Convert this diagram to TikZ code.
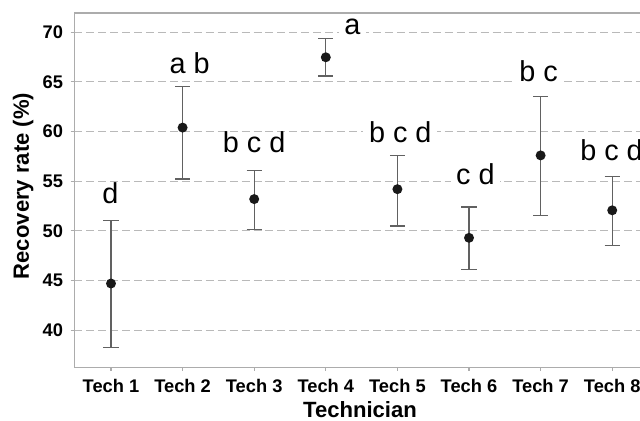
\documentclass[tikz,border=0pt]{standalone}
\usepackage{fontspec}
\setmainfont{Liberation Sans}

\begin{document}
\begin{tikzpicture}[x=1.79cm, y=0.24825cm,
	gridline/.style = {draw=gray!55, line width=0.6pt, dash pattern=on 5.7pt off 2.8pt},
	axisline/.style = {draw=gray!65, line width=0.8pt},
	errbar/.style = {draw=black!62, line width=0.85pt},
	meandot/.style = {circle, fill=black!90, inner sep=0pt, minimum size=7.1pt},
	grouplabel/.style = {fill=white, anchor=base, font=\fontsize{20.5}{24}\selectfont, text height=1em, text depth=0.22em, inner xsep=4pt, inner ysep=2pt},
	ticklabel/.style = {font=\bfseries\fontsize{13}{15}\selectfont},
	axistitle/.style = {font=\bfseries\fontsize{15.7}{18}\selectfont}]
	\useasboundingbox (-0.550,30.86) rectangle (8.388,73.25);
	% grid and axes
	\foreach \v in {40,45,...,70} {
		\draw[gridline] (0.487,\v) -- (8.39,\v);
		\draw[axisline] (0.437,\v) -- (0.487,\v);
		\node[ticklabel, anchor=east, inner sep=0pt] (y\v) at (0.334,\v) {\v};
	}
	\draw[axisline] (8.39,71.94) -- (0.487,71.94) -- (0.487,36.26) -- (8.39,36.26);
	\foreach \i in {1,...,8} {
		\draw[axisline] (\i,36.26) -- (\i,35.86);
		\node[ticklabel, anchor=base] (x\i) at (\i,33.68) {Tech \i};
	}
	\node[axistitle, anchor=base] (xt) at (4.478,31.25) {Technician};
	\node[axistitle, anchor=base, rotate=90] (yt) at (-0.148,54.52) {Recovery rate (\%)};
	% means with error bars
	\foreach \i/\m/\lo/\hi in {1/44.7/38.28/51.07, 2/60.4/55.23/64.56, 3/53.2/50.1/56.06, 4/67.48/65.6/69.4,
		5/54.2/50.5/57.6, 6/49.3/46.1/52.4, 7/57.6/51.57/63.55, 8/52.07/48.5/55.5} {
		\draw[errbar] (\i-0.105,\hi) -- (\i+0.105,\hi) (\i,\hi) -- (\i,\lo) (\i-0.105,\lo) -- (\i+0.105,\lo);
		\node[meandot] (m\i) at (\i,\m) {};
	}
	% letter groups
	\node[grouplabel] (g1) at (0.99,52.78) {d};
	\node[grouplabel] (g2) at (2.10,65.87) {a b};
	\node[grouplabel] (g3) at (3.00,57.88) {b c d};
	\node[grouplabel] (g4) at (4.37,69.73) {a};
	\node[grouplabel] (g5) at (5.04,58.88) {b c d};
	\node[grouplabel] (g6) at (6.09,54.62) {c d};
	\node[grouplabel] (g7) at (6.97,65.03) {b c};
	\node[grouplabel] (g8) at (7.99,57.07) {b c d};
\end{tikzpicture}
\end{document}
